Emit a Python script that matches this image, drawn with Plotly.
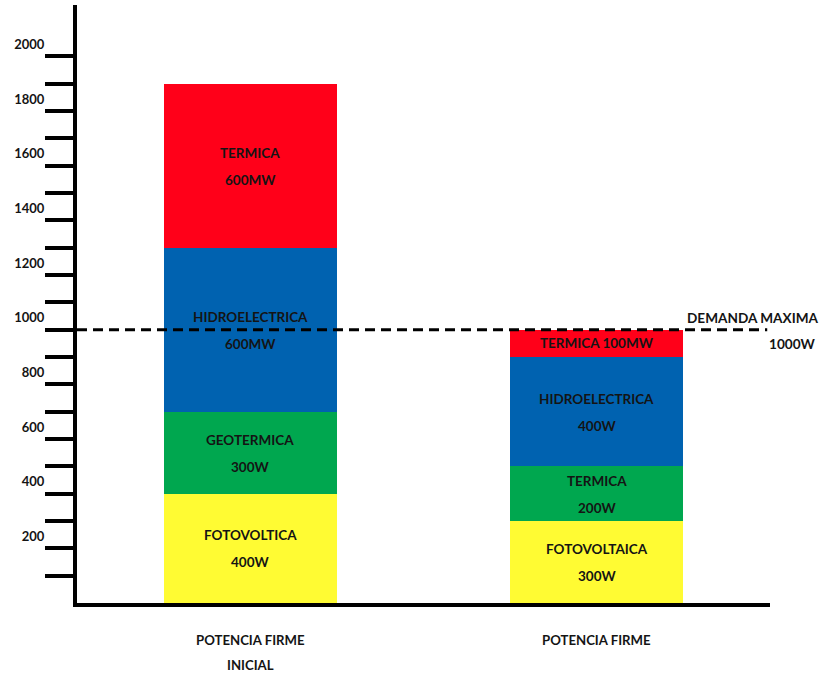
import plotly.graph_objects as go

categories = ["POTENCIA FIRME<br>INICIAL", "POTENCIA FIRME"]

# stacked layers, bottom to top
yellow_vals = [400, 300]
green_vals = [300, 200]
blue_vals = [600, 400]
red_vals = [600, 100]

yellow_names = ["FOTOVOLTICA", "FOTOVOLTAICA"]
yellow_texts = ["400W", "300W"]
green_names = ["GEOTERMICA", "TERMICA"]
green_texts = ["300W", "200W"]
blue_names = ["HIDROELECTRICA", "HIDROELECTRICA"]
blue_texts = ["600MW", "400W"]
red_names = ["TERMICA", "TERMICA 100MW"]
red_texts = ["600MW", ""]

demand_value = 1000
demand_label = "DEMANDA MAXIMA"
demand_text = "1000W"

y_tickvals = list(range(100, 2001, 100))
y_ticktext = [str(v) if v % 200 == 0 else "" for v in y_tickvals]

FONT = "Lato"
TXT = "#141414"
SEG_SIZE = 13.5

layers = [
    (yellow_vals, yellow_names, yellow_texts, "#FFFB33"),
    (green_vals, green_names, green_texts, "#00A74F"),
    (blue_vals, blue_names, blue_texts, "#0062B0"),
    (red_vals, red_names, red_texts, "#FF0019"),
]

def seg_font(size=SEG_SIZE):
    return dict(family=FONT, size=size, color=TXT, weight="bold")

fig = go.Figure()
annotations = []
bases = [0] * len(categories)
for vals, names, texts, color in layers:
    fig.add_trace(go.Bar(
        x=categories, y=vals, marker=dict(color=color, line=dict(width=0)),
        showlegend=False, hoverinfo="skip",
    ))
    for i, cat in enumerate(categories):
        center = bases[i] + vals[i] / 2
        if texts[i]:
            annotations.append(dict(x=cat, y=center, xref="x", yref="y", text=names[i],
                                    showarrow=False, yshift=13, font=seg_font()))
            annotations.append(dict(x=cat, y=center, xref="x", yref="y", text=texts[i],
                                    showarrow=False, yshift=-14, font=seg_font()))
        else:
            annotations.append(dict(x=cat, y=center, xref="x", yref="y", text=names[i],
                                    showarrow=False, font=seg_font()))
        bases[i] += vals[i]

# category labels below the axis
for cat in categories:
    for j, line in enumerate(cat.split("<br>")):
        annotations.append(dict(x=cat, y=0, xref="x", yref="y", text=line, showarrow=False,
                                yanchor="middle", yshift=-37 - 25 * j, font=seg_font(13.2)))

# demand labels
annotations.append(dict(x=1.074, y=demand_value, xref="paper", yref="y", text=demand_label,
                        showarrow=False, xanchor="right", yanchor="middle", yshift=12,
                        font=seg_font(13.6)))
annotations.append(dict(x=1.069, y=demand_value, xref="paper", yref="y", text=demand_text,
                        showarrow=False, xanchor="right", yanchor="middle", yshift=-14,
                        font=seg_font(13.6)))

fig.add_shape(type="line", xref="paper", yref="y", x0=0, x1=0.996,
              y0=demand_value, y1=demand_value,
              line=dict(color="black", width=3, dash="10px,6px"))

fig.update_layout(
    width=822, height=674,
    margin=dict(l=77, r=52, t=5, b=71),
    paper_bgcolor="white", plot_bgcolor="white",
    barmode="stack", bargap=0.5,
    annotations=annotations,
    font=dict(family=FONT, color=TXT),
    xaxis=dict(type="category", range=[-0.5, 1.5], showticklabels=False, ticks="",
               showline=True, linecolor="black", linewidth=4, showgrid=False, zeroline=False),
    yaxis=dict(range=[0, 2188], tickvals=y_tickvals, ticktext=y_ticktext,
               ticks="outside", ticklen=28, tickwidth=4, tickcolor="black",
               ticklabelshift=-12, ticklabelstandoff=-2,
               tickfont=dict(family=FONT, size=13, color=TXT, weight="bold"),
               showline=True, linecolor="black", linewidth=4, showgrid=False, zeroline=False),
)

fig.write_html("out.html")
